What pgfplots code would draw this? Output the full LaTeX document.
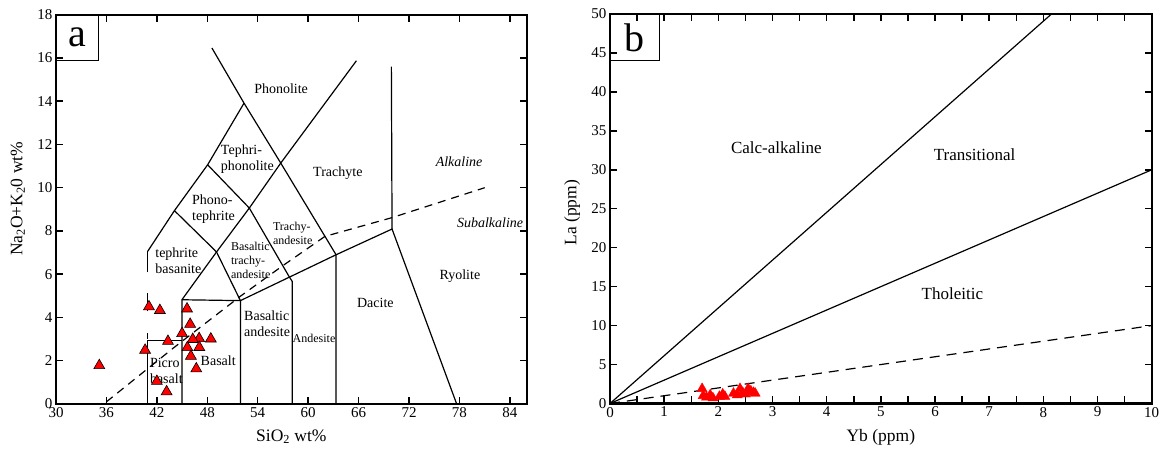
\documentclass[border=0pt]{standalone}
\usepackage{fontspec}
\setmainfont{Liberation Serif}
\usepackage{pgfplots}
\pgfplotsset{compat=1.18}
\pgfplotsset{
  common/.style={
    scale only axis,
    tick align=inside,
    major tick length=7pt,
    minor tick length=7pt,
    axis line style={line width=1.8pt},
    tick style={line width=1.5pt, black},
    ticklabel style={font=\fontsize{15}{15}\selectfont},
    /pgf/number format/assume math mode=true,
    label style={font=\fontsize{17.5}{17.5}\selectfont},
    clip=false,
  },
  bl/.style={black, line width=1.2pt, no marks},
}
\tikzset{
  lab/.style={font=\fontsize{14}{16}\selectfont, inner sep=0pt},
  slab/.style={font=\fontsize{12}{14}\selectfont, inner sep=0pt},
}
\begin{document}
\begin{tikzpicture}[x=1pt,y=1pt]
\useasboundingbox (0,0) rectangle (1164,449);
% ---------------- panel a ----------------
\begin{axis}[common,
  at={(56pt,45pt)}, anchor=south west,
  width=470.7pt, height=389.3pt,
  xmin=30, xmax=86, ymin=0, ymax=18,
  xtick={30,36,...,84}, ytick={0,2,...,18},
  xlabel={SiO\textsubscript{2} wt\%},
  ylabel={Na\textsubscript{2}O+K\textsubscript{2}0 wt\%},
  xlabel style={at={(axis description cs:0.5,0)}, anchor=north, yshift=-22pt},
  ylabel style={at={(axis description cs:-0.081,0.527)}, anchor=center},
]
\addplot[bl] coordinates {(40.91,0) (40.91,2.94) (44.98,2.94)};
\addplot[bl] coordinates {(40.91,3.0) (40.91,3.28)};
\addplot[bl] coordinates {(40.91,4.28) (40.91,5.13)};
\addplot[bl] coordinates {(40.91,6.09) (40.91,7.06)};
\addplot[bl] coordinates {(40.91,7.06) (44.09,8.94) (48.04,11.06) (52.37,13.91)};
\addplot[bl] coordinates {(48.55,16.46) (52.37,13.91) (56.74,11.14) (63.32,6.90) (63.32,0)};
\addplot[bl] coordinates {(65.74,15.87) (56.74,11.14) (53.0,9.06) (49.1,7.03) (44.98,4.82) (44.98,0)};
\addplot[bl] coordinates {(48.04,11.06) (53.0,9.06) (57.72,5.90) (58.1,5.67) (58.1,0)};
\addplot[bl] coordinates {(44.09,8.94) (49.1,7.03) (51.94,4.78) (51.94,0)};
\addplot[bl] coordinates {(44.98,4.82) (51.94,4.78) (63.32,6.90) (69.98,8.09) (77.67,0)};
\addplot[bl] coordinates {(69.9,15.6) (69.98,8.09)};
\addplot[black, line width=1.2pt, dash pattern=on 8pt off 6pt, no marks] coordinates {(36,0.1) (44,2.6) (52,5.0) (57,6.4) (62,7.75) (70,8.62) (81,10.0)};
\addplot[only marks, mark=triangle*, mark size=6.3pt, mark options={fill=red, draw=black, line width=0.6pt}] coordinates {
(35.15,1.78) (41.06,4.5) (42.36,4.33) (40.6,2.49) (43.32,2.9) (42.0,1.05) (43.16,0.57)
(45.0,3.26) (45.59,4.4) (45.96,3.69) (47.03,3.03) (46.27,2.99) (48.42,3.01) (45.63,2.61)
(47.05,2.62) (46.05,2.21) (46.69,1.63)};
\draw[line width=1pt] (axis cs:30,15.9) rectangle (axis cs:35,18);
\node[font=\fontsize{40}{40}\selectfont] at (axis cs:32.5,16.95) {a};
\node[lab] at (axis cs:56.78,14.56) {Phonolite};
\node[lab, align=left, anchor=west] at (axis cs:49.6,11.33) {Tephri-\\phonolite};
\node[lab] at (axis cs:63.53,10.68) {Trachyte};
\node[lab, align=left, anchor=west] at (axis cs:46.17,9.01) {Phono-\\tephrite};
\node[lab, font=\fontsize{14}{16}\selectfont\itshape] at (axis cs:77.96,11.19) {Alkaline};
\node[lab, font=\fontsize{14}{16}\selectfont\itshape] at (axis cs:81.65,8.4) {Subalkaline};
\node[slab, align=left, anchor=west] at (axis cs:55.8,7.87) {Trachy-\\andesite};
\node[slab, align=left, anchor=west] at (axis cs:50.8,6.64) {Basaltic\\trachy-\\andesite};
\node[lab, align=left, anchor=west] at (axis cs:41.8,6.64) {tephrite\\basanite};
\node[lab, align=left, anchor=west] at (axis cs:52.37,3.7) {Basaltic\\andesite};
\node[slab] at (axis cs:60.7,3.05) {Andesite};
\node[lab] at (axis cs:68.0,4.67) {Dacite};
\node[lab] at (axis cs:78.05,5.93) {Ryolite};
\node[lab] at (axis cs:49.3,2.0) {Basalt};
\node[lab, align=left, anchor=west] at (axis cs:41.16,1.54) {Picro\\basalt};
\end{axis}
% ---------------- panel b ----------------
\begin{axis}[common,
  at={(610pt,45.5pt)}, anchor=south west,
  width=541.7pt, height=389.5pt,
  xmin=0, xmax=10, ymin=0, ymax=50,
  xtick={0,...,10}, minor xtick={0.5,1.5,...,9.5}, ytick={0,5,...,50},
  axis line style={line width=2.4pt},
  xlabel={Yb (ppm)}, ylabel={La (ppm)},
  xlabel style={at={(axis description cs:0.5,0)}, anchor=north, yshift=-22pt},
  ylabel style={at={(axis description cs:-0.07,0.49)}, anchor=center},
]
\addplot[bl] coordinates {(0,0) (8.15,50)};
\addplot[bl] coordinates {(0,0) (10,30)};
\addplot[black, line width=1.2pt, dash pattern=on 10pt off 7pt, no marks] coordinates {(0,0) (10,10)};
\addplot[only marks, mark=triangle*, mark size=5.8pt, mark options={fill=red, draw=red}] coordinates {
(1.70,1.9) (1.72,1.0) (1.78,0.8) (1.85,1.1) (1.90,0.7) (2.02,0.9) (2.08,1.2) (2.12,0.9)
(2.28,1.3) (2.35,1.1) (2.40,1.9) (2.45,1.4) (2.50,1.2) (2.55,1.9) (2.60,1.6) (2.65,1.4) (2.68,1.3)};
\draw[line width=1pt] (axis cs:0,44) rectangle (axis cs:0.92,50);
\node[font=\fontsize{40}{40}\selectfont] at (axis cs:0.46,47.0) {b};
\node[font=\fontsize{17}{17}\selectfont] at (axis cs:3.07,32.8) {Calc-alkaline};
\node[font=\fontsize{17}{17}\selectfont] at (axis cs:6.73,32.0) {Transitional};
\node[font=\fontsize{17}{17}\selectfont] at (axis cs:6.32,14.07) {Tholeitic};
\end{axis}
\end{tikzpicture}
\end{document}
